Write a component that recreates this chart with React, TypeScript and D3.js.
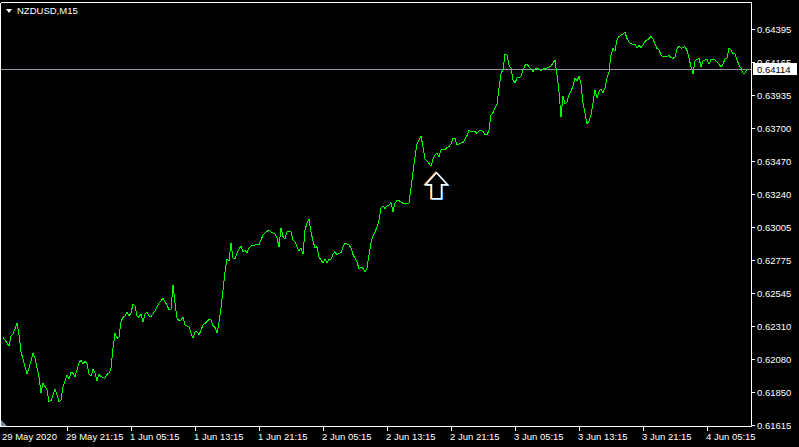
import React, { useEffect } from "react";
import * as d3 from "d3";

const symbolTitle = "NZDUSD,M15";

const bars = [
  0,3,4,5,7,8,9,11,12,13,15,16,18,19,20,22,23,24,26,27,28,29,30,32,33,34,35,36,38,39,40,41,42,43,44,45,46,47,48,49,
  51,52,53,54,55,56,57,58,59,60,61,62,63,64,65,66,67,68,69,70,71,72,73,74,76,77,78,80,81,82,83,84,85,86,87,88,89,90,91,
  93,94,95,96,97,98,99,100,102,103,104,105,106,107,108,109,110,111,112,113,114,115,116,117,118,119,120,121,122,123,124,
  126,128,129,130,131,133,134,135,136,137,138,139,140,141,142,144,145,146,147,148,149,150,151,152,153,154,155,156,157,
  158,159,160,161,162,163,164,165,166,167,168,169,170,171,172,173,174,175,176,177,178,179,180,181,182,183,184,185,186,
  187,188,189,190,191,192,193,194,195,196,197,198,199,200,201,202,203,204,205,206,207,208,209,210,211,212,213,214,215,
  216,217,218,219,220,221,222,223,224,225,226,227,228,229,230,231,232,233,234,235,236,237,238,239,240,241,242,243,244,
  245,246,247,248,249,250,251,252,253,254,255,256,257,258,259,260,261,262,263,264,265,266,267,268,269,270,271,272,273,
  274,275,276,277,278,279,280,281,282,283,284,285,286,287,288,289,290,291,292,293,294,295,296,297,298,299,300,301,302,
  303,304,305,306,307,308,309,310,311,312,313,314,315,316,317,318,319,320,321,322,323,324,325,326,327,328,329,330,331,
  332,333,334,335,336,337,338,339,340,341,342,343,344,345,346,347,348,349,350,351,352,353,354,355,356,357,358,359,360,
  361,362,363,364,365,366,367,368,369,370,371,372,
];

const closes = [
  0.62231,0.62170,0.62240,0.62254,0.62329,0.62247,0.62130,0.62024,0.61973,0.62015,0.62118,0.62083,0.61954,0.61838,0.61908,
  0.61861,0.61779,0.61786,0.61866,0.61826,0.61779,0.61791,0.61884,0.61966,0.61936,0.61985,0.61978,0.61954,0.62052,0.62071,
  0.62043,0.62064,0.62043,0.61973,0.61959,0.62006,0.61982,0.61926,0.61973,0.61954,
  0.61943,0.61971,0.61978,0.62013,0.62154,0.62259,0.62224,0.62231,0.62340,0.62371,0.62380,0.62410,0.62380,0.62399,0.62465,
  0.62450,0.62380,0.62371,0.62394,0.62340,0.62394,0.62410,0.62380,0.62375,0.62417,0.62441,0.62469,0.62504,0.62481,0.62457,
  0.62422,0.62427,0.62598,0.62472,0.62366,0.62347,0.62352,0.62371,0.62317,
  0.62305,0.62259,0.62224,0.62270,0.62270,0.62247,0.62282,0.62317,0.62340,0.62357,0.62352,0.62312,0.62301,0.62259,0.62335,
  0.62436,0.62563,0.62689,0.62780,0.62766,0.62893,0.62787,0.62780,0.62823,0.62851,0.62872,0.62830,0.62844,0.62823,0.62858,
  0.62872,
  0.62879,0.62879,0.62914,0.62949,0.62963,0.62984,0.62970,0.62963,0.62956,0.62928,0.62865,0.62998,0.62937,0.62921,0.62972,
  0.62970,0.62914,0.62900,0.62867,0.62839,0.62858,0.62816,0.62984,0.63033,0.63061,0.62970,0.62907,0.62858,0.62867,
  0.62794,0.62773,0.62754,0.62780,0.62750,0.62778,0.62778,0.62816,0.62832,0.62808,0.62820,0.62825,0.62865,0.62891,0.62886,
  0.62879,0.62858,0.62812,0.62785,0.62759,0.62710,0.62724,0.62715,0.62691,0.62717,0.62808,0.62893,0.62942,0.62972,
  0.63002,0.63054,0.63138,0.63152,0.63136,0.63152,0.63159,0.63176,0.63110,0.63174,0.63190,0.63190,0.63181,0.63170,0.63167,
  0.63167,0.63174,0.63279,0.63391,0.63496,0.63588,0.63616,0.63644,0.63567,0.63482,0.63468,0.63452,0.63433,0.63480,
  0.63511,0.63525,0.63499,0.63546,0.63551,0.63546,0.63565,0.63570,0.63588,0.63630,0.63628,0.63581,0.63588,0.63595,0.63597,
  0.63621,0.63647,0.63683,0.63676,0.63675,0.63675,0.63663,0.63679,0.63686,0.63675,0.63651,0.63651,0.63686,0.63791,
  0.63809,0.63840,0.63869,0.63981,0.64079,0.64114,0.64217,0.64212,0.64142,0.64119,0.64037,0.64016,0.64051,0.64053,0.64062,
  0.64107,0.64139,0.64149,0.64130,0.64114,0.64097,0.64114,0.64121,0.64111,0.64104,0.64111,0.64121,0.64121,0.64128,
  0.64135,0.64156,0.64177,0.64072,0.63955,0.63777,0.63925,0.63869,0.63883,0.63932,0.63960,0.63995,0.64051,0.64030,0.64065,
  0.64009,0.63876,0.63803,0.63728,0.63749,0.63791,0.63876,0.63967,0.63911,0.63955,0.63974,0.63949,0.63981,0.64051,
  0.64093,0.64212,0.64258,0.64241,0.64318,0.64342,0.64353,0.64358,0.64372,0.64328,0.64304,0.64293,0.64288,0.64288,0.64262,
  0.64279,0.64264,0.64283,0.64307,0.64318,0.64328,0.64342,0.64325,0.64290,0.64258,0.64248,0.64212,0.64198,0.64200,
  0.64200,0.64208,0.64194,0.64189,0.64200,0.64255,0.64276,0.64260,0.64264,0.64271,0.64244,0.64191,0.64130,0.64079,0.64170,
  0.64182,0.64189,0.64132,0.64170,0.64177,0.64181,0.64149,0.64180,0.64184,0.64177,0.64165,0.64147,0.64130,0.64149,
  0.64184,0.64191,0.64262,0.64248,0.64224,0.64220,0.64177,0.64142,0.64119,0.64084,0.64086,0.64114,
];

const priceTicks = [0.64395, 0.64165, 0.63935, 0.637, 0.6347, 0.6324, 0.63005, 0.62775, 0.62545, 0.6231, 0.6208, 0.6185, 0.61615];
const priceTickLabels = ["0.64395", "0.64165", "0.63935", "0.63700", "0.63470", "0.63240", "0.63005", "0.62775", "0.62545", "0.62310", "0.62080", "0.61850", "0.61615"];

const timeTickBars = [0, 32, 64, 96, 128, 160, 192, 224, 256, 288, 320, 352];
const timeTickLabels = [
  "29 May 2020", "29 May 21:15", "1 Jun 05:15", "1 Jun 13:15", "1 Jun 21:15", "2 Jun 05:15",
  "2 Jun 13:15", "2 Jun 21:15", "3 Jun 05:15", "3 Jun 13:15", "3 Jun 21:15", "4 Jun 05:15",
];

const bidPrice = 0.64114;
const bidLabel = "0.64114";
const arrowBar = 216.75;
const arrowPrice = 0.63386;

const W = 799;
const H = 447;
const FONT = "'Liberation Sans', Arial, sans-serif";

export default function App() {
  useEffect(() => {
    document.body.style.margin = "0";
    document.body.style.background = "#000";
  }, []);

  const x = d3.scaleLinear().domain([0, 374]).range([3, 751]);
  const y = d3.scaleLinear().domain([0.61615, 0.64395]).range([425, 29]);

  const pts: [number, number][] = bars.map((b, i) => [b, closes[i]]);
  const line = d3
    .line<[number, number]>()
    .x((d) => x(d[0]))
    .y((d) => y(d[1]));

  const plotRight = 751.5;
  const plotBottom = 426.5;
  const plotTop = 2.5;
  const plotLeft = 0.5;

  const bidY = Math.round(y(bidPrice)) + 0.5;

  const ax = x(arrowBar);
  const ay = y(arrowPrice);
  const arrowPath = (dx: number, dy: number) =>
    `M${ax + dx},${ay + dy} L${ax + 11 + dx},${ay + 12 + dy} L${ax + 5 + dx},${ay + 12 + dy} L${ax + 5 + dx},${ay + 26 + dy} L${ax - 5 + dx},${ay + 26 + dy} L${ax - 5 + dx},${ay + 12 + dy} L${ax - 11 + dx},${ay + 12 + dy} Z`;

  return (
    <svg
      width={W}
      height={H}
      style={{ display: "block", position: "absolute", left: 0, top: 0, background: "#000" }}
    >
      <rect x={0} y={0} width={W} height={H} fill="#000" />

      {/* bid line */}
      <line x1={plotLeft} x2={plotRight} y1={bidY} y2={bidY} stroke="#8e99a8" strokeWidth={1} shapeRendering="crispEdges" />

      {/* price line */}
      <path d={line(pts) || ""} fill="none" stroke="#00ff00" strokeWidth={1} shapeRendering="crispEdges" />

      {/* frame */}
      <path
        d={`M${plotLeft},${plotTop} V${plotBottom} H${plotRight} V${plotTop} H${plotLeft}`}
        fill="none"
        stroke="#fff"
        strokeWidth={1}
        shapeRendering="crispEdges"
      />

      {/* chart shift marker */}
      <path d={`M1,420 L1,426 L7,426 Z`} fill="#7f8c9c" />

      {/* right axis */}
      {priceTicks.map((p, i) => {
        const ty = Math.round(y(p)) + 0.5;
        return (
          <g key={"p" + i}>
            <line x1={plotRight} x2={plotRight + 3} y1={ty} y2={ty} stroke="#fff" shapeRendering="crispEdges" />
            <text x={757} y={ty + 3.5} fill="#fff" fontFamily={FONT} fontSize={9.5}>
              {priceTickLabels[i]}
            </text>
          </g>
        );
      })}

      {/* bid label */}
      <rect x={753} y={bidY - 6.5} width={44} height={12} fill="#fff" />
      <text x={757} y={bidY + 3.5} fill="#000" fontFamily={FONT} fontSize={9.5}>
        {bidLabel}
      </text>

      {/* time axis */}
      {timeTickBars.map((b, i) => {
        const tx = Math.round(x(b)) + 0.5;
        return (
          <g key={"t" + i}>
            {i > 0 && (
              <line x1={tx} x2={tx} y1={plotBottom} y2={plotBottom + 4} stroke="#fff" shapeRendering="crispEdges" />
            )}
            <text x={i === 0 ? 2 : tx - 1.5} y={439.5} fill="#fff" fontFamily={FONT} fontSize={9.5}>
              {timeTickLabels[i]}
            </text>
          </g>
        );
      })}

      {/* title */}
      <path d="M6,9 L12,9 L9,13 Z" fill="#fff" />
      <text x={17} y={13.5} fill="#fff" fontFamily={FONT} fontSize={9.5}>
        {symbolTitle}
      </text>

      {/* arrow */}
      <path d={arrowPath(-0.8, -0.5)} fill="none" stroke="#ff9a3c" strokeWidth={1.3} />
      <path d={arrowPath(0.8, 0.5)} fill="none" stroke="#3ca0ff" strokeWidth={1.3} />
      <path d={arrowPath(0, 0)} fill="#000" stroke="#fff" strokeWidth={1.5} />
    </svg>
  );
}
